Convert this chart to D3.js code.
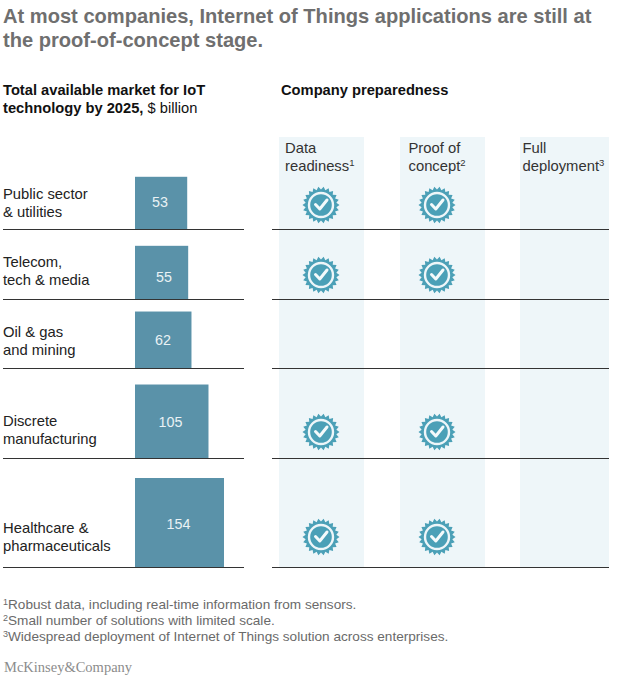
<!DOCTYPE html>
<html><head><meta charset="utf-8">
<script src="https://cdn.jsdelivr.net/npm/d3@7/dist/d3.min.js"></script>
<style>html,body{margin:0;padding:0;background:#fff}svg{display:block}text{font-family:"Liberation Sans",Arial,sans-serif}</style>
</head><body><div id="c"></div>
<script>
const categories = [["Public sector","& utilities"],["Telecom,","tech & media"],["Oil & gas","and mining"],["Discrete","manufacturing"],["Healthcare &","pharmaceuticals"]];
const marketValues = [53,55,62,105,154];
const stages = [["Data","readiness","1"],["Proof of","concept","2"],["Full","deployment","3"]];
const dataReadiness = [1,1,0,1,1];
const proofOfConcept = [1,1,0,1,1];
const fullDeployment = [0,0,0,0,0];
const footnotes = [["1","Robust data, including real-time information from sensors."],["2","Small number of solutions with limited scale."],["3","Widespread deployment of Internet of Things solution across enterprises."]];

const W=636,H=685;
const rowBottoms=[229,299,368,458,567];
const panels=[{x:279,w:85,tx:285,cx:321},{x:400,w:85,tx:408.5,cx:437},{x:520,w:89,tx:522.5}];
const badgeY=[205,275,null,432,537];
const catBase=[199,267,337,426,533];
const valBase=[207,282,345,427,529];
const valX=[160,164,163,170.5,178.5];
const svg=d3.select("#c").append("svg").attr("width",W).attr("height",H);
svg.append("rect").attr("width",W).attr("height",H).attr("fill","#fff");

const title=svg.append("text").attr("fill","#6f6f6f").attr("font-size",20.1).attr("font-weight",700);
["At most companies, Internet of Things applications are still at","the proof-of-concept stage."].forEach((t,i)=>
  title.append("tspan").attr("x",3).attr("y",23+i*24).text(t));

const h1=svg.append("text").attr("font-size",14.7).attr("fill","#111");
h1.append("tspan").attr("x",3).attr("y",95).attr("font-weight",700).text("Total available market for IoT");
const l2=h1.append("tspan").attr("x",3).attr("y",113);
l2.append("tspan").attr("font-weight",700).text("technology by 2025,");
l2.append("tspan").text(" $ billion");
svg.append("text").attr("x",281).attr("y",95).attr("font-size",14.7).attr("font-weight",700).attr("fill","#111").text("Company preparedness");

svg.selectAll("rect.panel").data(panels).join("rect").attr("class","panel")
  .attr("x",d=>d.x).attr("y",137).attr("width",d=>d.w).attr("height",430).attr("fill","#eef6f9");

stages.forEach((s,i)=>{
  const t=svg.append("text").attr("font-size",14.8).attr("fill","#333");
  t.append("tspan").attr("x",panels[i].tx).attr("y",153).text(s[0]);
  t.append("tspan").attr("x",panels[i].tx).attr("y",171).text(s[1]);
  t.append("tspan").attr("font-size",9.5).attr("dy",-5).text(s[2]);
});

// bars: square side encodes area, via sqrt scale
const side=d3.scaleSqrt().domain([0,154]).range([0,89]);
const X0=135;
svg.selectAll("rect.bar").data(marketValues).join("rect").attr("class","bar")
  .attr("x",X0).attr("y",(d,i)=>rowBottoms[i]-side(d)).attr("width",d=>side(d)).attr("height",d=>side(d)).attr("fill","#5a92a9");
svg.selectAll("text.val").data(marketValues).join("text").attr("class","val")
  .attr("x",(d,i)=>valX[i]).attr("y",(d,i)=>valBase[i])
  .attr("text-anchor","middle").attr("font-size",14.3).attr("fill","#eaf2f5").text(d=>d);

categories.forEach((c,i)=>{
  const t=svg.append("text").attr("font-size",14.8).attr("fill","#222");
  t.append("tspan").attr("x",3).attr("y",catBase[i]).text(c[0]);
  t.append("tspan").attr("x",3).attr("y",catBase[i]+18).text(c[1]);
});

rowBottoms.forEach(y=>{
  [[3,244],[272,609]].forEach(([a,b])=>svg.append("line").attr("x1",a).attr("x2",b).attr("y1",y+.5).attr("y2",y+.5).attr("stroke","#333").attr("stroke-width",1.2));
});

function badgePath(R,r,n){
  const pts=[];
  for(let i=0;i<n*2;i++){const rad=i%2?r:R;const a=Math.PI*i/n;pts.push([rad*Math.cos(a),rad*Math.sin(a)]);}
  return d3.line().curve(d3.curveLinearClosed)(pts);
}
function badge(cx,cy){
  const g=svg.append("g").attr("transform",`translate(${cx},${cy})`);
  g.append("path").attr("d",badgePath(18.5,15.5,22)).attr("fill","#4ba0b7");
  g.append("circle").attr("r",12).attr("fill","none").attr("stroke","#eef6f9").attr("stroke-width",2.4);
  g.append("circle").attr("r",9.5).attr("fill","#4ba0b7");
  g.append("path").attr("d","M-5.5,-0.5L-1.2,4L6,-5").attr("fill","none").attr("stroke","#f4fafb").attr("stroke-width",3).attr("stroke-linecap","round").attr("stroke-linejoin","round");
}
[dataReadiness,proofOfConcept,fullDeployment].forEach((series,j)=>{
  series.forEach((v,i)=>{ if(v) badge(panels[j].cx,badgeY[i]); });
});

footnotes.forEach((f,i)=>{
  const t=svg.append("text").attr("x",3).attr("y",609+i*16).attr("font-size",13.6).attr("fill","#6a6a6a");
  t.append("tspan").attr("font-size",9).attr("dy",-4).text(f[0]);
  t.append("tspan").attr("dy",4).text(f[1]);
});
svg.append("text").attr("x",4).attr("y",672).attr("font-size",14.5).attr("fill","#8c8c8c").style("font-family","'Liberation Serif',serif").text("McKinsey&Company");
</script></body></html>
